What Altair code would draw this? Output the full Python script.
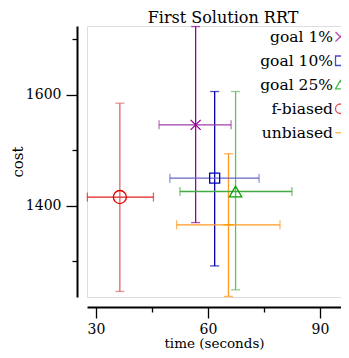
import altair as alt
import pandas as pd

series = ["goal 1%", "goal 10%", "goal 25%", "f-biased", "unbiased"]
time_mean = [56.7, 61.8, 67.4, 36.4, 65.5]
time_low = [46.9, 49.8, 52.5, 27.7, 51.6]
time_high = [66.2, 73.7, 82.5, 45.4, 79.3]
cost_mean = [1546, 1450, 1426, 1416, 1366]
cost_low = [1370, 1292, 1249, 1246, 1237]
cost_high = [1723, 1606, 1606, 1585, 1494]
marker_colors = ["#990099", "#0000bb", "#00a000", "#dd0000", "#ff9900"]
vbar_colors = ["#990099", "#0000aa", "#66bb66", "#e06666", "#ff9922"]
hbar_colors = ["#a040a8", "#6666cc", "#44aa44", "#dd2222", "#ff9922"]
shapes = ["M-1,-1L1,1M-1,1L1,-1", "square", "triangle-up", "circle", "stroke"]
marker_sizes = [100, 100, 150, 170, 100]

df = pd.DataFrame({
    "series": series,
    "t": time_mean, "tlo": time_low, "thi": time_high,
    "c": cost_mean, "clo": cost_low, "chi": cost_high,
    "vcol": vbar_colors, "hcol": hbar_colors, "msize": marker_sizes,
})

FONT = "DejaVu Serif"
xs = alt.Scale(domain=[27.6, 95.64], nice=False, zero=False)
ys = alt.Scale(domain=[1236, 1724], nice=False, zero=False)

x_axis = alt.Axis(
    values=[30, 45, 60, 75, 90],
    labelExpr="datum.value % 30 == 0 ? datum.label : ''",
    tickSize={"condition": {"test": "datum.value % 30 == 0", "value": 11}, "value": 5},
    offset=10, domainWidth=2, domainColor="black", tickColor="black", tickWidth=1.3,
    labelPadding=4, labelFont=FONT, labelFontSize=14, labelColor="black",
    title="time (seconds)", titleFont=FONT, titleFontSize=13.5, titleFontWeight="normal",
    titleColor="black", titleBaseline="alphabetic", titleY=40.5, grid=False,
)
y_axis = alt.Axis(
    values=[1300, 1400, 1500, 1600, 1700],
    labelExpr="datum.value % 200 == 0 ? datum.label : ''",
    tickSize={"condition": {"test": "datum.value % 200 == 0", "value": 11}, "value": 5},
    offset=10, domainWidth=2, domainColor="black", tickColor="black", tickWidth=1.3,
    labelPadding=5, labelFont=FONT, labelFontSize=14, labelColor="black",
    title="cost", titleFont=FONT, titleFontSize=15, titleFontWeight="normal",
    titleColor="black", titlePadding=0, grid=False, format="d",
)

base = alt.Chart(df)

vbars = base.mark_rule(strokeWidth=1.3).encode(
    x=alt.X("t:Q", scale=xs, axis=x_axis),
    y=alt.Y("clo:Q", scale=ys, axis=y_axis),
    y2="chi:Q",
    color=alt.Color("vcol:N", scale=None),
)
hbars = base.mark_rule(strokeWidth=1.3).encode(
    x="tlo:Q", x2="thi:Q", y="c:Q",
    color=alt.Color("hcol:N", scale=None),
)
vcap_lo = base.mark_tick(orient="horizontal", size=9, thickness=1.3).encode(
    x="t:Q", y="clo:Q", color=alt.Color("vcol:N", scale=None))
vcap_hi = base.mark_tick(orient="horizontal", size=9, thickness=1.3).encode(
    x="t:Q", y="chi:Q", color=alt.Color("vcol:N", scale=None))
hcap_lo = base.mark_tick(orient="vertical", size=9, thickness=1.3).encode(
    x="tlo:Q", y="c:Q", color=alt.Color("hcol:N", scale=None))
hcap_hi = base.mark_tick(orient="vertical", size=9, thickness=1.3).encode(
    x="thi:Q", y="c:Q", color=alt.Color("hcol:N", scale=None))

legend = alt.Legend(
    title=None, orient="none", legendX=245.5, legendY=3,
    labelAlign="right", labelOffset={"expr": "-15"}, labelFont=FONT, labelFontSize=15.5,
    labelColor="black", labelLimit=0, symbolSize=90, symbolStrokeWidth=1.3,
    rowPadding=7, padding=0,
)
markers = base.mark_point(filled=False, strokeWidth=1.3, opacity=1).encode(
    x="t:Q", y="c:Q",
    color=alt.Color("series:N", scale=alt.Scale(domain=series, range=marker_colors), legend=legend),
    shape=alt.Shape("series:N", scale=alt.Scale(domain=series, range=shapes), legend=legend),
    size=alt.Size("msize:Q", scale=None),
)

chart = alt.layer(vbars, hbars, vcap_lo, vcap_hi, hcap_lo, hcap_hi, markers).properties(
    width=254, height=271,
    padding={"left": 79, "top": 18, "right": 0, "bottom": 53},
    autosize="none",
    title=alt.TitleParams("First Solution RRT", font=FONT, fontSize=16, fontWeight="normal",
                          color="black", anchor="middle", offset=0, dx=9),
).configure_view(stroke=None).configure(background="white")

chart.save("out.html", embed_options={"renderer": "svg", "actions": False})
